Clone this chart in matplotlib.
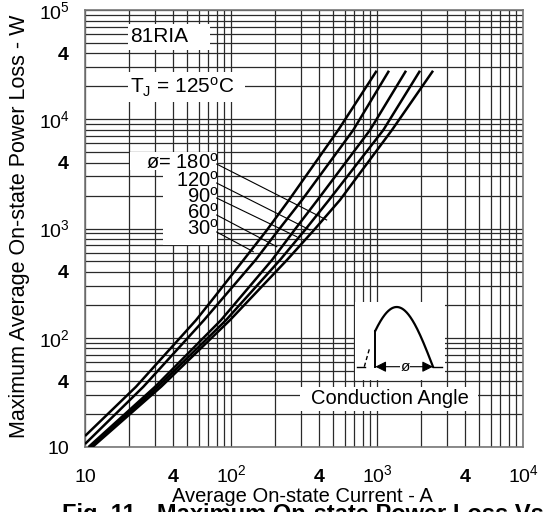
import numpy as np
import matplotlib
matplotlib.use('Agg')
import matplotlib.pyplot as plt
from matplotlib.patches import Rectangle
from matplotlib.ticker import LogLocator, FuncFormatter, FixedLocator

plt.rcParams['font.family'] = ['Liberation Sans', 'DejaVu Sans']
plt.rcParams['mathtext.fontset'] = 'custom'
plt.rcParams['mathtext.rm'] = 'Liberation Sans'
plt.rcParams['mathtext.it'] = 'Liberation Sans'
plt.rcParams['mathtext.bf'] = 'Liberation Sans:bold'

# ---------------- data ----------------
angle_labels = ['180', '120', '90', '60', '30']

current_30 = [10, 22.35, 57.6, 74.1, 121.8, 176.4, 249.6, 543, 995]
power_30 = [12.6, 35.6, 145, 221, 515, 969, 1824, 7970, 27800]

current_60 = [10, 25.1, 65.3, 147.2, 211.5, 306.4, 688, 1208]
power_60 = [10.65, 35.6, 145, 515, 969, 1824, 7970, 27800]

current_90 = [10.57, 30.2, 85.4, 190.9, 272.2, 391.3, 896, 1580]
power_90 = [10, 35.6, 145, 515, 969, 1824, 7970, 27800]

current_120 = [10.9, 31.6, 92.4, 216.6, 321.2, 469.1, 1105, 1970]
power_120 = [10, 35.6, 145, 515, 969, 1824, 7970, 27800]

current_180 = [11.25, 33.2, 98.4, 241.8, 370.3, 557.9, 1266, 2420]
power_180 = [10, 35.6, 145, 515, 969, 1824, 7970, 27800]

x_tick_values = [10, 100, 1000, 10000]
y_tick_values = [10, 100, 1000, 10000, 100000]

# leader lines from the angle labels to the curves (180, 120, 90, 60, 30)
leader_start_I = [79.8, 79.8, 79.8, 79.8, 79.8]
leader_start_P = [3890, 2606, 1900, 1328, 929]
leader_end_I = [452, 348, 282, 206, 142]
leader_end_P = [1197, 968, 841, 681, 614]

W, H = 543, 512
AX_L, AX_R, AX_T, AX_B = 85, 523, 10, 447

fig = plt.figure(figsize=(W / 100, H / 100), dpi=100)
ax = fig.add_axes([AX_L / W, 1 - AX_B / H, (AX_R - AX_L) / W, (AX_B - AX_T) / H])
ax.set_xscale('log')
ax.set_yscale('log')
ax.set_xlim(10, 1e4)
ax.set_ylim(10, 1e5)


def major_fmt(v, pos):
    e = int(round(np.log10(v)))
    if e == 1:
        return '10'
    return r'$\mathregular{10^{%d}}$' % e


def minor_fmt(v, pos):
    m = v / 10 ** np.floor(np.log10(v) + 1e-9)
    return r'$\mathbf{4}$' if abs(m - 4) < 0.01 else ''


for axis in (ax.xaxis, ax.yaxis):
    axis.set_minor_locator(LogLocator(base=10, subs=np.arange(2, 10), numticks=20))
    axis.set_minor_formatter(FuncFormatter(minor_fmt))
ax.xaxis.set_major_locator(FixedLocator(x_tick_values))
ax.yaxis.set_major_locator(FixedLocator(y_tick_values))
ax.xaxis.set_major_formatter(FuncFormatter(major_fmt))
ax.yaxis.set_major_formatter(FuncFormatter(major_fmt))

ax.tick_params(axis='both', which='both', length=0, labelsize=14)
ax.tick_params(axis='x', which='both', pad=25)
ax.tick_params(axis='y', which='both', pad=11)
for lbl in ax.get_xticklabels() + ax.get_xticklabels(minor=True):
    lbl.set_va('baseline')

ax.grid(which='both', color='#2a2a2a', lw=0.9)
for s in ax.spines.values():
    s.set_color('#777777')
    s.set_linewidth(1.2)


def px2ax(x, y):
    return (x - AX_L) / (AX_R - AX_L), (AX_B - y) / (AX_B - AX_T)


def white_box(x0, y0, x1, y1):
    a0 = px2ax(x0, y1)
    a1 = px2ax(x1, y0)
    ax.add_patch(Rectangle(a0, a1[0] - a0[0], a1[1] - a0[1], transform=ax.transAxes,
                           facecolor='white', edgecolor='none', zorder=2))


white_box(128, 24, 210, 50)
white_box(128, 72, 245, 102)
white_box(130, 152, 217, 170)
white_box(163, 170, 217, 245)
white_box(300, 387, 478, 411)

# curves
for I, P in [(current_30, power_30), (current_60, power_60), (current_90, power_90),
             (current_120, power_120), (current_180, power_180)]:
    ax.plot(I, P, color='black', lw=1.8, zorder=3, solid_capstyle='butt',
            solid_joinstyle='round')

# leaders
for xs, ys, xe, ye in zip(leader_start_I, leader_start_P, leader_end_I, leader_end_P):
    ax.plot([xs, xe], [ys, ye], color='black', lw=0.8, zorder=3)

# texts
ax.text(*px2ax(130, 37), '81RIA', transform=ax.transAxes, fontsize=15,
        ha='left', va='center', zorder=4)
ax.text(*px2ax(130, 87), r'T$_\mathregular{J}$ = 125$^\mathregular{o}$C', transform=ax.transAxes,
        fontsize=15, ha='left', va='center', zorder=4)
label_y = [163, 181, 197, 213, 229]
for i, (lab, yy) in enumerate(zip(angle_labels, label_y)):
    s = lab + r'$^\mathregular{o}$'
    if i == 0:
        s = 'ø= ' + s
    ax.text(*px2ax(219, yy), s, transform=ax.transAxes, fontsize=14.5,
            ha='right', va='center', zorder=4, linespacing=1.0)
ax.text(*px2ax(390, 398), 'Conduction Angle', transform=ax.transAxes, fontsize=14.5,
        ha='center', va='center', zorder=4)

# conduction-angle inset sketch
ins = fig.add_axes([355 / W, 1 - 380 / H, 90 / W, 78 / H])
ins.set_xlim(355, 445)
ins.set_ylim(380, 302)
ins.axis('off')
ins.add_patch(Rectangle((355, 302), 90, 78, facecolor='white', edgecolor='none', zorder=0))
th = np.linspace(0, np.pi, 200)
sx = 360.4 + th / np.pi * 72.6
sy = 366.7 - 59.7 * np.sin(th)
fire = 0.632
m = th >= fire
ins.plot(sx[m], sy[m], color='black', lw=1.6)
ins.plot([sx[m][0], sx[m][0]], [366.7, sy[m][0]], color='black', lw=1.4)
ins.plot([364.3, 370], [366.7, 346.7], color='black', lw=1.0, ls=(0, (3, 2)))
ins.plot([357, 364.5], [366.7, 366.7], color='black', lw=1.0)
ins.plot([433, 442], [366.7, 366.7], color='black', lw=1.0)
ins.annotate('', xy=(433, 366.7), xytext=(sx[m][0], 366.7),
             arrowprops=dict(arrowstyle='<|-|>', color='black', lw=0.8,
                             mutation_scale=16, shrinkA=0, shrinkB=0))
ins.text(405, 366.7, 'ø', fontsize=11, ha='center', va='center',
         bbox=dict(facecolor='white', edgecolor='none', pad=0.5))

# axis titles
fig.text(20 / W, 1 - 226 / H, 'Maximum Average On-state Power Loss - W', rotation=90,
         ha='center', va='center', fontsize=15.5)
fig.text(302 / W, 1 - 502 / H, 'Average On-state Current - A', ha='center',
         va='baseline', fontsize=14.5)
fig.text(62 / W, 1 - 503 / H, 'Fig. 11 - Maximum On-state Power Loss Vs. Current',
         ha='left', va='top', fontsize=17, fontweight='bold')

fig.savefig('out.png', dpi=100)
